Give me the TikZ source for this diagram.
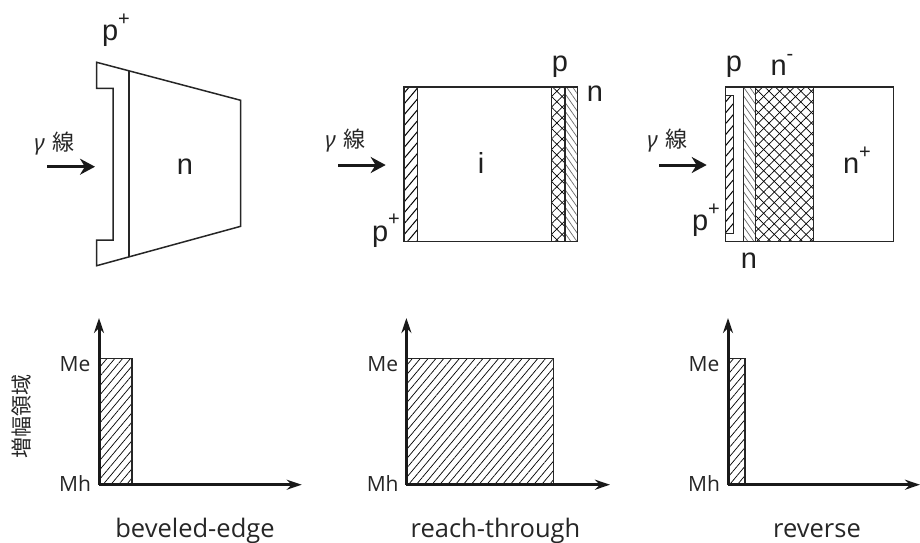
\documentclass[tikz,border=0pt]{standalone}
\usepackage{fontspec}
\setmainfont{Liberation Sans}
\newfontfamily\myriadlike{Open Sans}
\newfontfamily\kanjifont{Noto Sans CJK JP}
\newfontfamily\greekfont{Noto Sans}
\usetikzlibrary{patterns.meta,arrows.meta}
\newcommand{\joge}[1]{\raisebox{.52em}{\fontsize{20}{20}\selectfont #1}} %右肩の記号
\newcommand{\senlabel}{{\greekfont\itshape γ}\hspace{.35em}{\kanjifont 線}}

\begin{document}
\begin{tikzpicture}[x=1pt,y=-1pt,
        devlabel/.style={anchor=base,inner sep=0pt,font=\fontsize{29}{29}\selectfont,text=black!88},
        raylabel/.style={anchor=base,inner sep=0pt,font=\fontsize{22}{22}\selectfont,text=black!85},
        plotlabel/.style={anchor=base,inner sep=0pt,font=\myriadlike\fontsize{21}{21}\selectfont,text=black!85},
        namelabel/.style={anchor=base,inner sep=0pt,font=\myriadlike\fontsize{25.5}{26}\selectfont,text=black!85},
        wall/.style={draw=black!85,line width=1.5pt},
        ray/.style={-{Stealth[length=15pt,width=16pt]},line width=3pt,black!90},
        axis/.style={-{Stealth[length=15pt,width=10pt]},line width=3pt,black!90},
        hatchA/.style={pattern={Lines[angle=50,distance=7pt,line width=1pt]}},
        hatchB/.style={pattern={Lines[angle=-55,distance=5pt,line width=.7pt]},pattern color=black!60},
        hatchC/.style={pattern={Lines[angle=50,distance=6pt,line width=.7pt]}},
        crossA/.style={pattern={Lines[angle=45,distance=7.5pt,line width=.7pt]}},
        crossB/.style={pattern={Lines[angle=-45,distance=7.5pt,line width=.7pt]}}]
        \useasboundingbox (0,0) rectangle (920,542);

        %beveled-edge の素子
        \draw[wall](96.7,62.3)--(240.7,100.3)--(240.7,226.3)--(96.7,265.7)--(96.7,240)--(113,240)--(113,88.3)--(96.7,88.3)--cycle;
        \draw[wall](129,71)--(129,256.7);
        \node[devlabel] (ptop) at (116,40.5) {p\joge{+}};
        \node[devlabel] (nbody) at (185,174) {n};
        \node[raylabel] (rayA) at (54.5,150) {\senlabel};
        \coordinate (rayAs) at (47,166.7);
        \coordinate (rayAe) at (95,166.7);
        \draw[ray](rayAs)--(rayAe);

        %reach-through の素子
        \fill[hatchA](404,87) rectangle (417.3,241.7);
        \fill[crossA](551.7,87) rectangle (565,241.7);
        \fill[crossB](551.7,87) rectangle (565,241.7);
        \fill[hatchB](565,87) rectangle (577.3,241.7);
        \draw[wall](404,87) rectangle (577.3,241.7);
        \draw[wall](417.3,87)--(417.3,241.7) (551.7,87)--(551.7,241.7) (565,87)--(565,241.7);
        \node[devlabel] (pleft) at (386,241) {p\joge{+}};
        \node[devlabel] (iright) at (481,173.3) {i};
        \node[devlabel] (ptwo) at (560,71.5) {p};
        \node[devlabel] (ntwo) at (595,101.7) {n};
        \node[raylabel] (rayB) at (345.5,147) {\senlabel};
        \coordinate (rayBs) at (338,165);
        \coordinate (rayBe) at (385.7,165);
        \draw[ray](rayBs)--(rayBe);

        %reverse の素子
        \fill[hatchA](725.3,95.7) rectangle (733.7,233.3);
        \fill[hatchB](743.3,87) rectangle (755.7,241.7);
        \fill[crossA](755.7,87) rectangle (813.7,241.7);
        \fill[crossB](755.7,87) rectangle (813.7,241.7);
        \draw[wall](725.3,87) rectangle (893.7,241.7);
        \draw[wall](725.3,95.7) rectangle (733.7,233.3);
        \draw[wall](743.3,87)--(743.3,241.7) (755.7,87)--(755.7,241.7) (813.7,87)--(813.7,241.7);
        \node[devlabel] (pthree) at (734,71) {p};
        \node[devlabel] (nminus) at (782,75.7) {n\joge{-}};
        \node[devlabel] (nplus) at (857,173.3) {n\joge{+}};
        \node[devlabel] (pplus) at (706,230.7) {p\joge{+}};
        \node[devlabel] (nthree) at (749,268.3) {n};
        \node[raylabel] (rayC) at (667.5,147) {\senlabel};
        \coordinate (rayCs) at (659,165);
        \coordinate (rayCe) at (706.7,165);
        \draw[ray](rayCs)--(rayCe);

        %下段のグラフ
        \coordinate (origA) at (99,484.7);
        \coordinate (topA) at (99,318);
        \coordinate (endA) at (301.7,484.7);
        \fill[hatchC](99,358.3) rectangle (132,484.7);
        \draw[wall](99,358.3) rectangle (132,484.7);
        \draw[axis](origA)--(topA);
        \draw[axis](origA)--(endA);
        \node[plotlabel] (meA) at (75,371) {Me};
        \node[plotlabel] (mhA) at (75,491.7) {Mh};
        \node[namelabel] (nameA) at (195,537) {beveled-edge};
        \node[anchor=center,inner sep=0pt,rotate=90,font=\kanjifont\fontsize{21}{21}\selectfont,text=black!85] (gain) at (22,416) {増幅領域};

        \coordinate (origB) at (406.4,484.7);
        \coordinate (topB) at (406.4,318);
        \coordinate (endB) at (610,484.7);
        \fill[hatchC](406.4,358.3) rectangle (553.6,484.7);
        \draw[wall](406.4,358.3) rectangle (553.6,484.7);
        \draw[axis](origB)--(topB);
        \draw[axis](origB)--(endB);
        \node[plotlabel] (meB) at (382.7,371) {Me};
        \node[plotlabel] (mhB) at (382.7,491.7) {Mh};
        \node[namelabel] (nameB) at (495.5,537) {reach-through};

        \coordinate (origC) at (728,484.7);
        \coordinate (topC) at (728,318);
        \coordinate (endC) at (920,484.7);
        \fill[hatchC](728,358.3) rectangle (745,484.7);
        \draw[wall](728,358.3) rectangle (745,484.7);
        \draw[axis](origC)--(topC);
        \draw[axis](origC)--(endC);
        \node[plotlabel] (meC) at (704,371) {Me};
        \node[plotlabel] (mhC) at (704,491.7) {Mh};
        \node[namelabel] (nameC) at (817,537) {reverse};

    \end{tikzpicture}
\end{document}
